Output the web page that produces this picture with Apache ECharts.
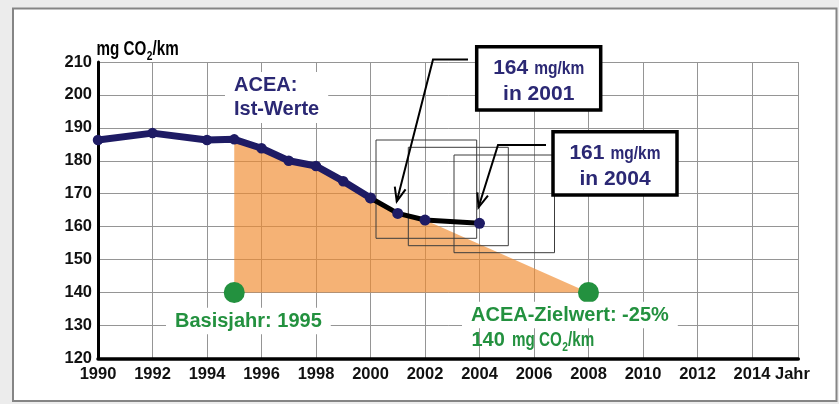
<!DOCTYPE html>
<html>
<head>
<meta charset="utf-8">
<script src="https://cdn.jsdelivr.net/npm/echarts@6/dist/echarts.min.js"></script>
<style>
  html, body { margin: 0; padding: 0; background: #ececec; }
  #chart { width: 839px; height: 404px; }
</style>
</head>
<body>
<div id="chart"></div>
<script>
// ACEA fleet average, actual values (mg CO2/km)
const years = [1990, 1992, 1994, 1995, 1996, 1997, 1998, 1999, 2000, 2001, 2002, 2004];
const emissions = [186.3, 188.4, 186.3, 186.5, 183.8, 180.0, 178.4, 173.8, 168.7, 164, 162, 161];
const recentFrom = 2000;          // from here on the line is drawn black
// base year and ACEA target (green dots)
const goalYears = [1995, 2008];
const goalValues = [140, 140];
const corridorEnd = 2002;         // last actual point of the shaded reduction wedge
// highlighted values in the callout boxes
const calloutYears = [2001, 2004];
const calloutValues = [164, 161];

const SANS = '"Liberation Sans", Arial, Helvetica, sans-serif';
const NAVY_TEXT = '#2b2874';
const NAVY_LINE = '#1e1b64';
const GREEN = '#23913f';
const ORANGE = 'rgba(240,138,46,0.66)';
const GRID_GRAY = '#959595';
const NARROW_SCALE = 0.76;        // condensed look for the unit labels

const pts = years.map((y, i) => [y, emissions[i]]);
const earlyPts = pts.filter(p => p[0] <= recentFrom);
const latePts = pts.filter(p => p[0] >= recentFrom);
const wedgePts = [[goalYears[0], goalValues[0]]]
  .concat(pts.filter(p => p[0] >= goalYears[0] && p[0] <= corridorEnd))
  .concat([[goalYears[1], goalValues[1]]]);

const measureCtx = document.createElement('canvas').getContext('2d');
function textWidth(str, size) {
  measureCtx.font = 'bold ' + size + 'px ' + SANS;
  return measureCtx.measureText(str).width;
}

const chart = echarts.init(document.getElementById('chart'), null, { renderer: 'canvas' });

chart.setOption({
  backgroundColor: '#ececec',
  animation: false,
  grid: { left: 98, right: 40.7, top: 62, bottom: 45.7, outerBoundsMode: 'none' },
  xAxis: {
    type: 'value', min: 1990, max: 2015.7, interval: 2,
    axisLine: { show: true, onZero: false, lineStyle: { color: '#000', width: 3.5 } },
    axisTick: { show: false },
    axisLabel: {
      margin: 8, color: '#111', fontFamily: SANS, fontWeight: 'bold', fontSize: 16.5,
      formatter: v => (Number.isInteger(v) ? String(v) : '')
    },
    splitLine: { show: true, lineStyle: { color: GRID_GRAY, width: 1 } }
  },
  yAxis: {
    type: 'value', min: 120, max: 210, interval: 10,
    axisLine: { show: true, onZero: false, lineStyle: { color: '#000', width: 3 } },
    axisTick: { show: false },
    axisLabel: { margin: 6, color: '#111', fontFamily: SANS, fontWeight: 'bold', fontSize: 16.5 },
    splitLine: { show: true, lineStyle: { color: GRID_GRAY, width: 1 } }
  },
  series: [
    {
      // reduction wedge from base year towards the target
      type: 'custom',
      coordinateSystem: 'cartesian2d',
      data: [[goalYears[0], goalValues[0]]],
      z: 1,
      silent: true,
      renderItem: (params, api) => ({
        type: 'polygon',
        shape: { points: wedgePts.map(p => api.coord(p)) },
        style: { fill: ORANGE }
      })
    },
    {
      type: 'line',
      data: earlyPts,
      z: 3,
      symbol: 'circle', symbolSize: 10.5, showAllSymbol: true,
      lineStyle: { color: NAVY_LINE, width: 7 },
      itemStyle: { color: NAVY_LINE }
    },
    {
      type: 'line',
      data: latePts,
      z: 4,
      symbol: 'circle', symbolSize: 11, showAllSymbol: true,
      lineStyle: { color: '#000', width: 5 },
      itemStyle: { color: NAVY_LINE }
    },
    {
      type: 'scatter',
      data: goalYears.map((y, i) => [y, goalValues[i]]),
      z: 5,
      symbol: 'circle', symbolSize: 21,
      itemStyle: { color: GREEN, opacity: 1 }
    }
  ]
});

// ---- annotations ----
function arrowHead(from, tip, len, ang) {
  const a = Math.atan2(tip[1] - from[1], tip[0] - from[0]);
  return [
    [tip[0] - len * Math.cos(a - ang), tip[1] - len * Math.sin(a - ang)],
    tip,
    [tip[0] - len * Math.cos(a + ang), tip[1] - len * Math.sin(a + ang)]
  ];
}

function thinBox(x, y, w, h) {
  return { type: 'rect', z: 1, silent: true, shape: { x, y, width: w, height: h },
           style: { fill: null, stroke: '#3c3c3c', lineWidth: 1 } };
}

function plainText(x, y, text, size, color, scaleX) {
  return {
    type: 'text', x, y, z: 21, scaleX: scaleX || 1,
    style: { text, fill: color, fontFamily: SANS, fontWeight: 'bold', fontSize: size,
             align: 'left', verticalAlign: 'middle' }
  };
}

// "mg CO2/km" set in a narrow face with a lowered subscript
function co2Unit(x, y, color) {
  const size = 20, sub = 13.5;
  const w1 = textWidth('mg CO', size) * NARROW_SCALE;
  const w2 = textWidth('2', sub) * NARROW_SCALE;
  return [
    plainText(x, y, 'mg CO', size, color, NARROW_SCALE),
    plainText(x + w1 + 0.5, y + 7, '2', sub, color, NARROW_SCALE),
    plainText(x + w1 + w2 + 0.5, y, '/km', size, color, NARROW_SCALE)
  ];
}

function callout(cx, cy, w, h, year, value) {
  const numSize = 21, unitSize = 18.5, unitScale = 0.84, gap = 6;
  const wn = textWidth(String(value), numSize);
  const wu = textWidth('mg/km', unitSize) * unitScale;
  const left = cx - (wn + gap + wu) / 2;
  return [
    { type: 'rect', z: 20, shape: { x: cx - w / 2, y: cy - h / 2, width: w, height: h },
      style: { fill: '#fff', stroke: '#000', lineWidth: 3.5 } },
    plainText(left, cy - 10, String(value), numSize, NAVY_TEXT),
    plainText(left + wn + gap, cy - 9, 'mg/km', unitSize, NAVY_TEXT, unitScale),
    { type: 'text', x: cx, y: cy + 15.5, z: 21,
      style: { text: 'in ' + year, fill: NAVY_TEXT, fontFamily: SANS, fontWeight: 'bold',
               fontSize: numSize, align: 'center', verticalAlign: 'middle' } }
  ];
}

function whiteLabel(x, y, text, color) {
  return {
    type: 'text', x, y, z: 20,
    style: {
      text, fill: color, fontFamily: SANS, fontWeight: 'bold', fontSize: 20,
      lineHeight: 24.5, backgroundColor: '#fff', padding: [1, 9, 1, 9],
      align: 'left', verticalAlign: 'middle'
    }
  };
}

const p2001 = chart.convertToPixel({ gridIndex: 0 }, [calloutYears[0], calloutValues[0]]);
const p2004 = chart.convertToPixel({ gridIndex: 0 }, [calloutYears[1], calloutValues[1]]);
const tip1 = [p2001[0] - 1, p2001[1] - 12];
const tip2 = [p2004[0] - 1, p2004[1] - 16];
const bend1 = [433, 59.5], start1 = [468, 59.5];
const bend2 = [498, 145], start2 = [546, 145];
const arrowStyle = { stroke: '#000', lineWidth: 2, fill: null };

const graphics = [
  // outer frame
  { type: 'rect', z: -100, silent: true, shape: { x: 13, y: 8.5, width: 823.5, height: 392.5 },
    style: { fill: '#fff', stroke: '#858585', lineWidth: 2 } },
  // outlines around the recent values
  thinBox(376, 140, 100.7, 98.3),
  thinBox(408.3, 147.3, 100, 98.4),
  thinBox(454, 155, 100.5, 97.7),
  // arrows
  { type: 'polyline', z: 15, shape: { points: [start1, bend1, tip1] }, style: arrowStyle },
  { type: 'polyline', z: 15, shape: { points: arrowHead(bend1, tip1, 15, 0.38) }, style: arrowStyle },
  { type: 'polyline', z: 15, shape: { points: [start2, bend2, tip2] }, style: arrowStyle },
  { type: 'polyline', z: 15, shape: { points: arrowHead(bend2, tip2, 15, 0.38) }, style: arrowStyle }
]
  .concat(callout(538.7, 78.3, 124, 63.3, calloutYears[0], calloutValues[0]))
  .concat(callout(615, 163.3, 124, 63.3, calloutYears[1], calloutValues[1]))
  .concat([
    whiteLabel(225, 97.5, 'ACEA:\nIst-Werte', NAVY_TEXT),
    whiteLabel(166, 321, 'Basisjahr: 1995', GREEN),
    whiteLabel(462, 315, 'ACEA-Zielwert: -25%', GREEN),
    plainText(471.5, 340, '140', 20, GREEN),
    plainText(775, 374, 'Jahr', 16.5, '#111')
  ])
  .concat(co2Unit(512, 340, GREEN))
  .concat(co2Unit(96.5, 49, '#000'));

chart.setOption({ graphic: graphics });
</script>
</body>
</html>
